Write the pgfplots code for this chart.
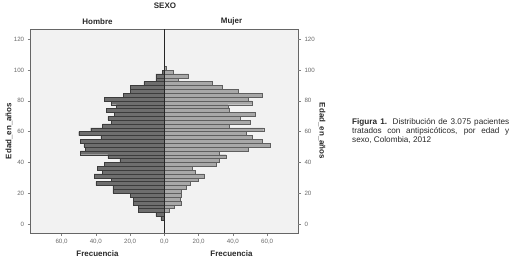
\documentclass[border=0pt]{standalone}
\usepackage{pgfplots}
\usepackage{pgfplotstable}
\pgfplotsset{compat=1.18}
\usepackage{fontspec}
\setmainfont{Liberation Sans}

\definecolor{male}{RGB}{110,110,110}
\definecolor{female}{RGB}{168,168,168}
\definecolor{maleedge}{RGB}{60,60,60}
\definecolor{femaleedge}{RGB}{95,95,95}
\definecolor{plotbg}{RGB}{242,242,242}
\definecolor{ticktext}{RGB}{105,105,105}
\definecolor{titletext}{RGB}{40,40,40}

\pgfplotstableread{
age hombre mujer
101.25 0 1
98.75 -1 5
96.25 -5 14
93.75 -5 8
91.25 -12 28
88.75 -20 34
86.25 -20 43
83.75 -24 57
81.25 -35 49
78.75 -31 51
76.25 -28 37
73.75 -34 38
71.25 -29 53
68.75 -33 44
66.25 -31 50
63.75 -36 38
61.25 -43 58
58.75 -50 48
56.25 -37 51
53.75 -49 57
51.25 -47 62
48.75 -46 49
46.25 -49 32
43.75 -33 36
41.25 -26 32
38.75 -35 30
36.25 -39 16
33.75 -36 18
31.25 -41 23
28.75 -31 20
26.25 -40 15
23.75 -30 13
21.25 -30 10
18.75 -20 10
16.25 -18 9
13.75 -18 10
11.25 -15 6
8.75 -15 3
6.25 -5 0
3.75 -2 0
}\datatable

\pgfplotsset{
  pyr/.style={
    at={(30.7bp,34bp)}, anchor=south west,
    scale only axis, width=267.3bp, height=204bp,
    xmin=-78, xmax=78, ymin=-5.85, ymax=126.7,
    tick align=outside, major tick length=3bp,
    tick style={draw=gray, line width=0.4pt},
    tick label style={font=\fontsize{6.2}{7}\selectfont, text=ticktext},
    /pgf/number format/assume math mode=true,
    ytick={0,20,...,120},
  }
}

\begin{document}
\begin{tikzpicture}
\useasboundingbox (0,0) rectangle (512bp,267bp);
\begin{axis}[pyr,
    axis background/.style={fill=plotbg},
    axis line style={draw=gray!80!black, line width=0.5pt},
    xtick pos=lower, ytick pos=left,
    xtick={-60,-40,-20,0,20,40,60},
    xticklabels={{60,0},{40,0},{20,0},{0,0},{20,0},{40,0},{60,0}},
  ]
  \addplot[xbar, bar width=2.5, bar shift=0pt, fill=male, draw=maleedge, line width=0.35pt]
    table[x=hombre, y=age]{\datatable};
  \addplot[xbar, bar width=2.5, bar shift=0pt, fill=female, draw=femaleedge, line width=0.35pt]
    table[x=mujer, y=age]{\datatable};
  \addplot[black!85, line width=0.5pt] coordinates {(0,-5.85) (0,126.7)};
\end{axis}
\begin{axis}[pyr,
    axis line style={draw=none},
    xtick=\empty,
    ytick pos=right, yticklabel pos=right,
  ]
\end{axis}

\begin{scope}[font=\fontsize{8}{9}\selectfont\bfseries, text=titletext]
  \node at (165bp,261bp) {SEXO};
  \node at (97.5bp,245.5bp) {Hombre};
  \node at (231.5bp,245.5bp) {Mujer};
  \node at (97.5bp,13bp) {Frecuencia};
  \node at (231.5bp,13bp) {Frecuencia};
  \node[rotate=90] at (9bp,136bp) {Edad\textunderscore en\textunderscore años};
  \node[rotate=-90] at (322bp,136bp) {Edad\textunderscore en\textunderscore años};
\end{scope}

\node[anchor=north west, text width=157bp, align=justify, inner sep=0pt,
      font=\fontsize{8.2}{8.8}\selectfont, text=titletext] at (352bp,148.5bp)
  {\hyphenpenalty=10000 \textbf{Figura 1.} Distribución de 3.075 pacientes\linebreak
   tratados con antipsicóticos, por edad y\linebreak
   sexo, Colombia, 2012};
\end{tikzpicture}
\end{document}
